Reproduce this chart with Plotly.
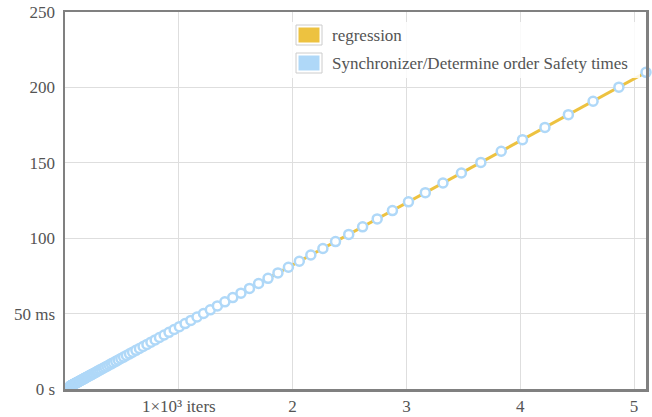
import plotly.graph_objects as go

# ---- data ----
iters = [45, 47, 50, 52, 55, 57, 60, 63, 66, 69, 73, 76, 80, 84, 88, 92, 97, 101, 106, 112,
         117, 123, 129, 135, 142, 149, 156, 164, 172, 180, 189, 198, 208, 218, 229, 240, 251, 264, 277, 290,
         304, 319, 335, 351, 369, 387, 406, 425, 446, 468, 491, 515, 540, 567, 594, 623, 654, 686, 720, 755,
         792, 830, 871, 914, 959, 1005, 1055, 1106, 1160, 1217, 1277, 1339, 1405, 1474, 1546, 1621, 1701, 1784, 1871, 1963,
         2059, 2160, 2266, 2377, 2493, 2615, 2743, 2877, 3018, 3166, 3321, 3483, 3654, 3833, 4020, 4217, 4423, 4640, 4867, 5105]
times_ms = [1.85, 1.94, 2.04, 2.13, 2.24, 2.35, 2.46, 2.59, 2.71, 2.85, 2.99, 3.13, 3.29, 3.45, 3.62, 3.79, 3.98, 4.17, 4.38, 4.59,
            4.81, 5.05, 5.30, 5.56, 5.83, 6.11, 6.41, 6.72, 7.05, 7.40, 7.76, 8.14, 8.54, 8.96, 9.40, 9.86, 10.34, 10.85, 11.38, 11.94,
            12.52, 13.13, 13.77, 14.45, 15.16, 15.90, 16.68, 17.49, 18.35, 19.25, 20.19, 21.18, 22.21, 23.30, 24.44, 25.64, 26.89, 28.21, 29.59, 31.04,
            32.56, 34.15, 35.83, 37.58, 39.42, 41.35, 43.38, 45.50, 47.73, 50.06, 52.51, 55.08, 57.78, 60.61, 63.57, 66.69, 69.95, 73.38, 76.97, 80.74,
            84.69, 88.83, 93.18, 97.74, 102.53, 107.55, 112.81, 118.33, 124.13, 130.20, 136.58, 143.26, 150.28, 157.63, 165.35, 173.45, 181.93, 190.84, 200.18, 209.97]
regression_x = [0, 5105]
regression_y = [0, 209.97]

x_tick_vals = [1000, 2000, 3000, 4000, 5000]
x_tick_text = ["1×10³ iters", "2", "3", "4", "5"]
y_tick_vals = [0, 50, 100, 150, 200, 250]
y_tick_text = ["0 s", "50 ms", "100", "150", "200", "250"]

legend_names = ["regression", "Synchronizer/Determine order Safety times"]
legend_colors = ["#edc240", "#afd8f8"]

# ---- layout geometry (page pixels) ----
W, H = 652, 417
L, R, T, B = 65, 646, 12, 389          # plot area
FONT = "Liberation Serif, Times New Roman, serif"
TXT = "#545454"


def px(x):
    return (x - L) / (R - L)


def py(y):
    return (B - y) / (B - T)


fig = go.Figure()
fig.add_trace(go.Scatter(x=regression_x, y=regression_y, mode="lines",
                         line=dict(color=legend_colors[0], width=3),
                         name=legend_names[0], showlegend=False, cliponaxis=False))
fig.add_trace(go.Scatter(x=iters, y=times_ms, mode="markers",
                         marker=dict(size=9, color="white",
                                     line=dict(color=legend_colors[1], width=2.5)),
                         name=legend_names[1], showlegend=False, cliponaxis=False))

axis_common = dict(showline=True, mirror=True, linecolor="#808080", linewidth=2.5,
                   showgrid=True, gridcolor="#dedede", gridwidth=1, zeroline=False,
                   ticks="outside", tickcolor="rgba(0,0,0,0)", automargin=False,
                   ticklabeloverflow="allow",
                   tickfont=dict(family=FONT, size=17, color=TXT))

fig.update_layout(
    width=W, height=H,
    font=dict(family=FONT, size=17, color=TXT),
    margin=dict(l=L, r=W - R, t=T, b=H - B, pad=0, autoexpand=False),
    plot_bgcolor="white", paper_bgcolor="white",
    showlegend=False,
    xaxis=dict(range=[0, 5105], tickvals=x_tick_vals, ticktext=x_tick_text, ticklen=0, **axis_common),
    yaxis=dict(range=[0, 250], tickvals=y_tick_vals, ticktext=y_tick_text, ticklen=4, **axis_common),
)

# ---- hand-drawn legend (Flot style) ----
shapes = [dict(type="rect", xref="paper", yref="paper", layer="above",
               x0=px(291), x1=px(640), y0=py(22), y1=py(78),
               fillcolor="rgba(255,255,255,0.85)", line=dict(width=0))]
annotations = []
rows = [35, 63]
for name, color, cy in zip(legend_names, legend_colors, rows):
    shapes.append(dict(type="rect", xref="paper", yref="paper", layer="above",
                       x0=px(296), x1=px(322), y0=py(cy - 10), y1=py(cy + 10),
                       fillcolor="white", line=dict(color="#cccccc", width=1)))
    shapes.append(dict(type="rect", xref="paper", yref="paper", layer="above",
                       x0=px(298.5), x1=px(319.5), y0=py(cy - 7.5), y1=py(cy + 7.5),
                       fillcolor=color, line=dict(width=0)))
    annotations.append(dict(xref="paper", yref="paper", x=px(330), y=py(cy),
                            xanchor="left", yanchor="middle", showarrow=False,
                            text=name, font=dict(family=FONT, size=17, color=TXT)))
fig.update_layout(shapes=shapes, annotations=annotations)

fig.write_html("out.html",
               config={"displayModeBar": False, "staticPlot": True},
               post_script="document.body.style.margin='0';document.body.style.overflow='hidden';")
